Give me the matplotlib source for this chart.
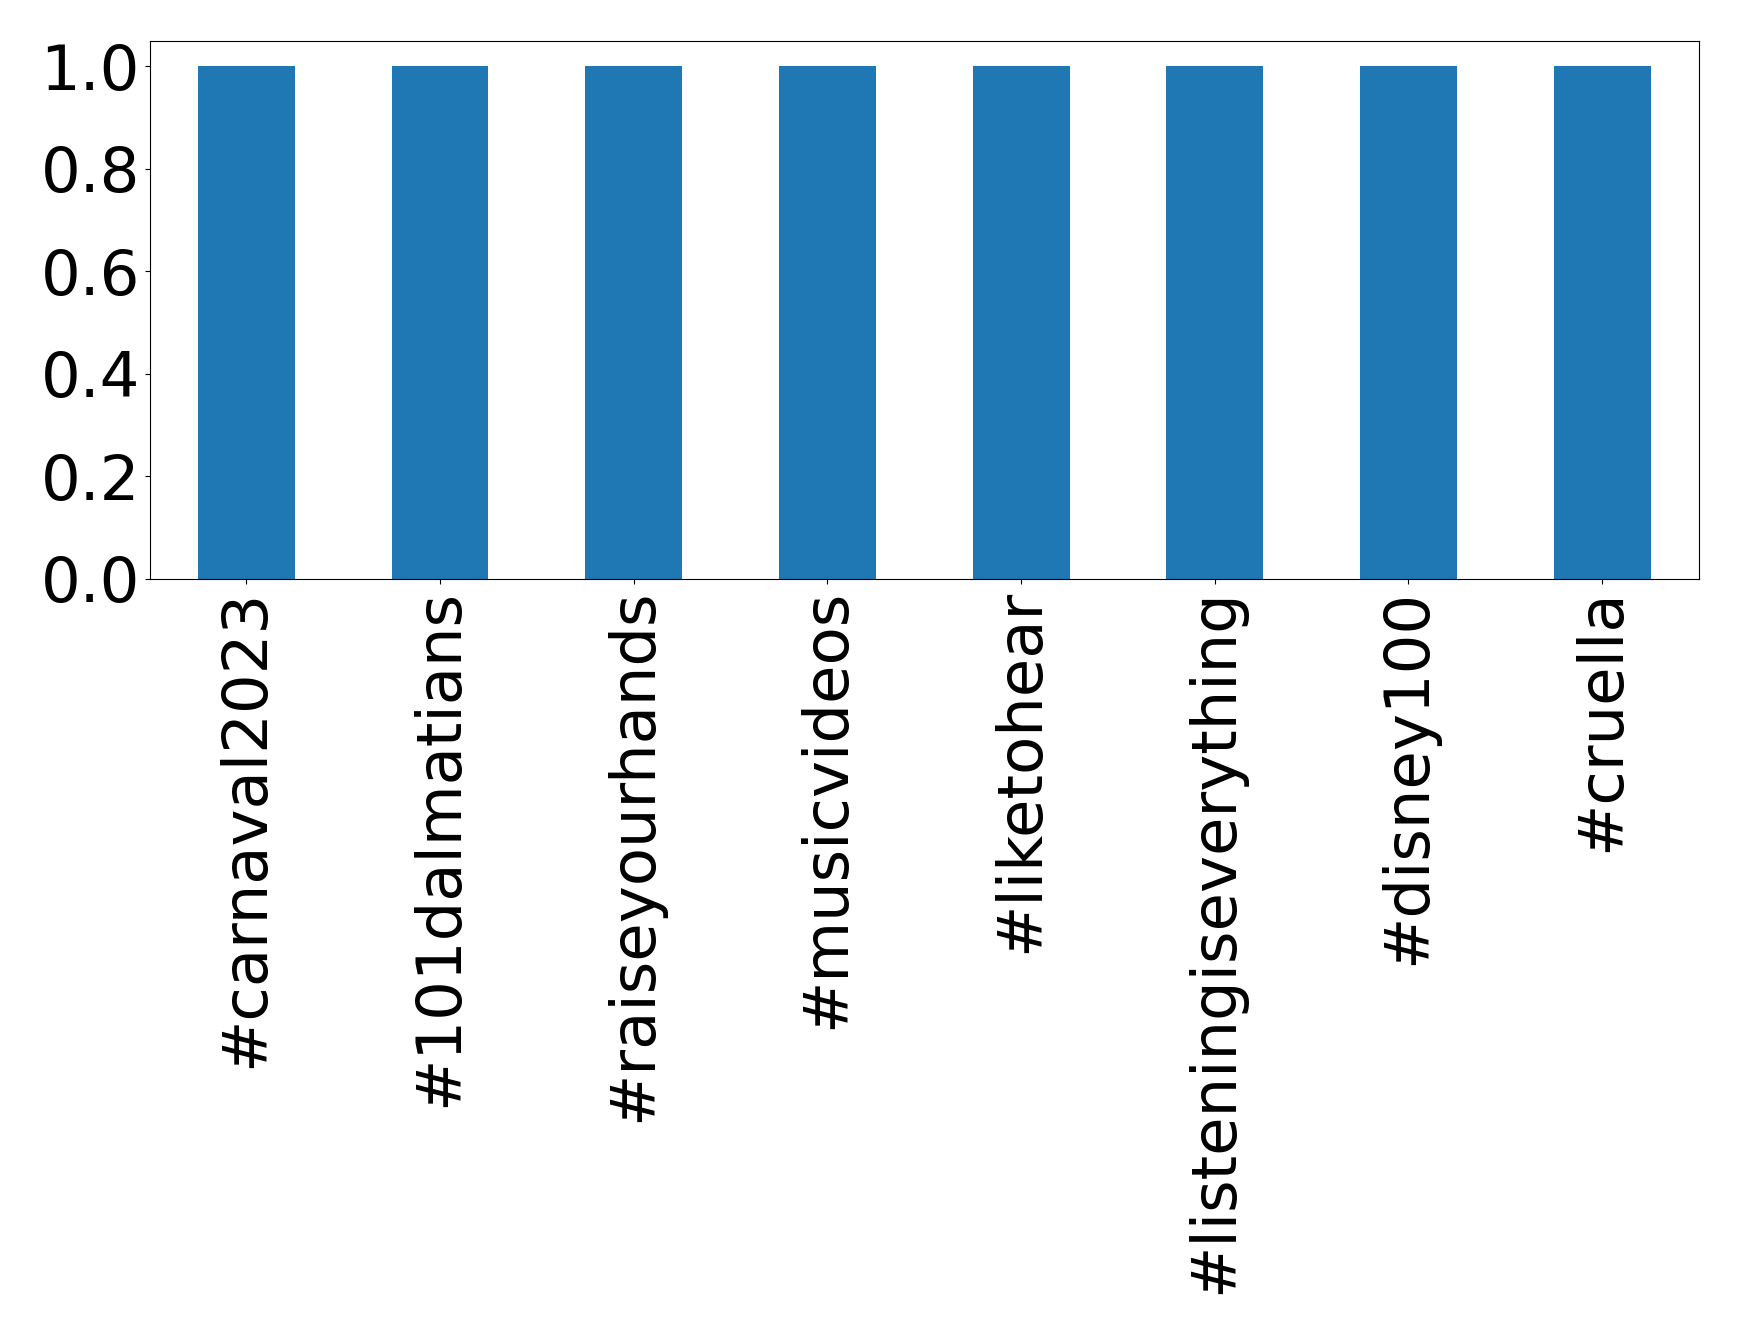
import matplotlib
matplotlib.use("Agg")
import matplotlib.pyplot as plt
import numpy as np

# hashtag counts
hashtags = ["#carnaval2023", "#101dalmatians", "#raiseyourhands", "#musicvideos",
            "#liketohear", "#listeningiseverything", "#disney100", "#cruella"]
counts = [1, 1, 1, 1, 1, 1, 1, 1]

fig = plt.figure(figsize=(17.39, 13.34), dpi=100)
ax = fig.add_axes([0.086, 0.566, 0.891, 0.4035])

x = np.arange(len(hashtags))
ax.bar(x, counts, width=0.5, color="#1f77b4")
ax.set_xlim(-0.5, len(hashtags) - 0.5)
ax.set_ylim(0, 1.05)
ax.set_xticks(x)
ax.set_xticklabels(hashtags, rotation=90)
ax.set_yticks([0.0, 0.2, 0.4, 0.6, 0.8, 1.0])
ax.tick_params(labelsize=45)

plt.savefig("out.png", dpi=100)
